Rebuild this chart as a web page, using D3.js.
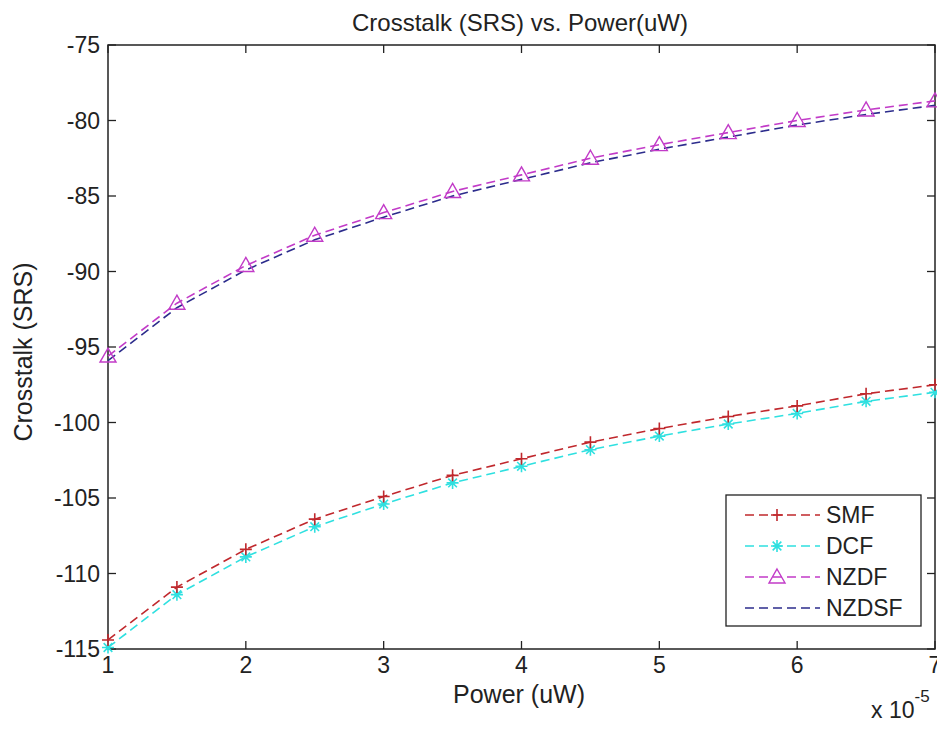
<!DOCTYPE html>
<html>
<head>
<meta charset="utf-8">
<script src="https://cdn.jsdelivr.net/npm/d3@7"></script>
<style>
  body { margin: 0; background: #fff; }
  text { font-family: "Liberation Sans", Arial, sans-serif; fill: #222; }
</style>
</head>
<body>
<div id="chart"></div>
<script>
// data (power in units of 1e-5 uW)
const power = [1, 1.5, 2, 2.5, 3, 3.5, 4, 4.5, 5, 5.5, 6, 6.5, 7];
const smf   = [-114.4, -110.9, -108.4, -106.4, -104.9, -103.5, -102.4, -101.3, -100.4, -99.6, -98.9, -98.1, -97.5];
const dcf   = [-114.9, -111.4, -108.9, -106.9, -105.4, -104.0, -102.9, -101.8, -100.9, -100.1, -99.4, -98.6, -98.0];
const nzdf  = [-95.6, -92.1, -89.6, -87.6, -86.1, -84.7, -83.6, -82.5, -81.6, -80.8, -80.0, -79.3, -78.7];
const nzdsf = [-95.9, -92.4, -89.9, -87.9, -86.4, -85.0, -83.9, -82.8, -81.9, -81.1, -80.3, -79.6, -79.0];
const xTicks = [1, 2, 3, 4, 5, 6, 7];
const yTicks = [-75, -80, -85, -90, -95, -100, -105, -110, -115];

const series = [
  { name: "SMF",   values: smf,   color: "#c0282d", marker: "plus" },
  { name: "DCF",   values: dcf,   color: "#2fe0e0", marker: "star" },
  { name: "NZDF",  values: nzdf,  color: "#c23bc8", marker: "triangle" },
  { name: "NZDSF", values: nzdsf, color: "#2c2c8c", marker: "none" }
];

const W = 937, H = 730;
const m = { left: 108, top: 45, right: 935, bottom: 649 };

const svg = d3.select("#chart").append("svg")
  .attr("width", W).attr("height", H);

const x = d3.scaleLinear().domain([1, 7]).range([m.left, m.right]);
const y = d3.scaleLinear().domain([-115, -75]).range([m.bottom, m.top]);

// frame
svg.append("rect")
  .attr("x", m.left).attr("y", m.top)
  .attr("width", m.right - m.left).attr("height", m.bottom - m.top)
  .attr("fill", "none").attr("stroke", "#222").attr("stroke-width", 1.5);

const tickLen = 8;
// x ticks (bottom + top, inward)
xTicks.forEach(t => {
  svg.append("line").attr("x1", x(t)).attr("x2", x(t))
    .attr("y1", m.bottom).attr("y2", m.bottom - tickLen)
    .attr("stroke", "#222").attr("stroke-width", 1.3);
  svg.append("line").attr("x1", x(t)).attr("x2", x(t))
    .attr("y1", m.top).attr("y2", m.top + tickLen)
    .attr("stroke", "#222").attr("stroke-width", 1.3);
  svg.append("text").attr("x", x(t)).attr("y", 673)
    .attr("text-anchor", "middle").style("font-size", "23px").text(t);
});
// y ticks (left + right, inward)
yTicks.forEach(t => {
  svg.append("line").attr("x1", m.left).attr("x2", m.left + tickLen)
    .attr("y1", y(t)).attr("y2", y(t))
    .attr("stroke", "#222").attr("stroke-width", 1.3);
  svg.append("line").attr("x1", m.right).attr("x2", m.right - tickLen)
    .attr("y1", y(t)).attr("y2", y(t))
    .attr("stroke", "#222").attr("stroke-width", 1.3);
  svg.append("text").attr("x", m.left - 8).attr("y", y(t) + 8)
    .attr("text-anchor", "end").style("font-size", "23px").text(t);
});

// titles
svg.append("text").attr("x", 520).attr("y", 31)
  .attr("text-anchor", "middle").style("font-size", "24px")
  .text("Crosstalk (SRS) vs. Power(uW)");
svg.append("text").attr("x", 519).attr("y", 703)
  .attr("text-anchor", "middle").style("font-size", "25px")
  .text("Power (uW)");
svg.append("text")
  .attr("transform", `translate(32,352) rotate(-90)`)
  .attr("text-anchor", "middle").style("font-size", "25px")
  .text("Crosstalk (SRS)");
const expo = svg.append("text").attr("x", 871).attr("y", 718).style("font-size", "23px");
expo.append("tspan").text("x 10");
expo.append("tspan").attr("dy", -16).style("font-size", "17px").text("-5");

// lines
const line = d3.line().x(d => x(d[0])).y(d => y(d[1]));

function drawMarker(g, type, color, cx, cy) {
  if (type === "plus") {
    g.append("path").attr("d", `M${cx - 6},${cy}H${cx + 6}M${cx},${cy - 6}V${cy + 6}`)
      .attr("stroke", color).attr("stroke-width", 1.6).attr("fill", "none");
  } else if (type === "star") {
    const r = 6;
    let d = `M${cx - r},${cy}H${cx + r}M${cx},${cy - r}V${cy + r}`;
    const k = r * 0.72;
    d += `M${cx - k},${cy - k}L${cx + k},${cy + k}M${cx - k},${cy + k}L${cx + k},${cy - k}`;
    g.append("path").attr("d", d)
      .attr("stroke", color).attr("stroke-width", 1.6).attr("fill", "none");
  } else if (type === "triangle") {
    g.append("path").attr("d", `M${cx},${cy - 8}L${cx + 8},${cy + 6}L${cx - 8},${cy + 6}Z`)
      .attr("stroke", color).attr("stroke-width", 1.4).attr("fill", "none");
  }
}

const plot = svg.append("g");
series.slice().reverse().forEach(s => {
  const pts = power.map((p, i) => [p, s.values[i]]);
  plot.append("path").datum(pts)
    .attr("d", line)
    .attr("fill", "none").attr("stroke", s.color)
    .attr("stroke-width", 1.6).attr("stroke-dasharray", "9,5");
  pts.forEach(d => drawMarker(plot, s.marker, s.color, x(d[0]), y(d[1])));
});

// legend
const lg = svg.append("g");
lg.append("rect").attr("x", 726).attr("y", 495).attr("width", 195).attr("height", 131)
  .attr("fill", "#fff").attr("stroke", "#222").attr("stroke-width", 1.3);
series.forEach((s, i) => {
  const ly = 515 + i * 31;
  lg.append("line").attr("x1", 745).attr("x2", 820).attr("y1", ly).attr("y2", ly)
    .attr("stroke", s.color).attr("stroke-width", 1.6).attr("stroke-dasharray", "9,5");
  drawMarker(lg, s.marker, s.color, 777, ly);
  lg.append("text").attr("x", 826).attr("y", ly + 8)
    .style("font-size", "23px").text(s.name);
});
</script>
</body>
</html>
